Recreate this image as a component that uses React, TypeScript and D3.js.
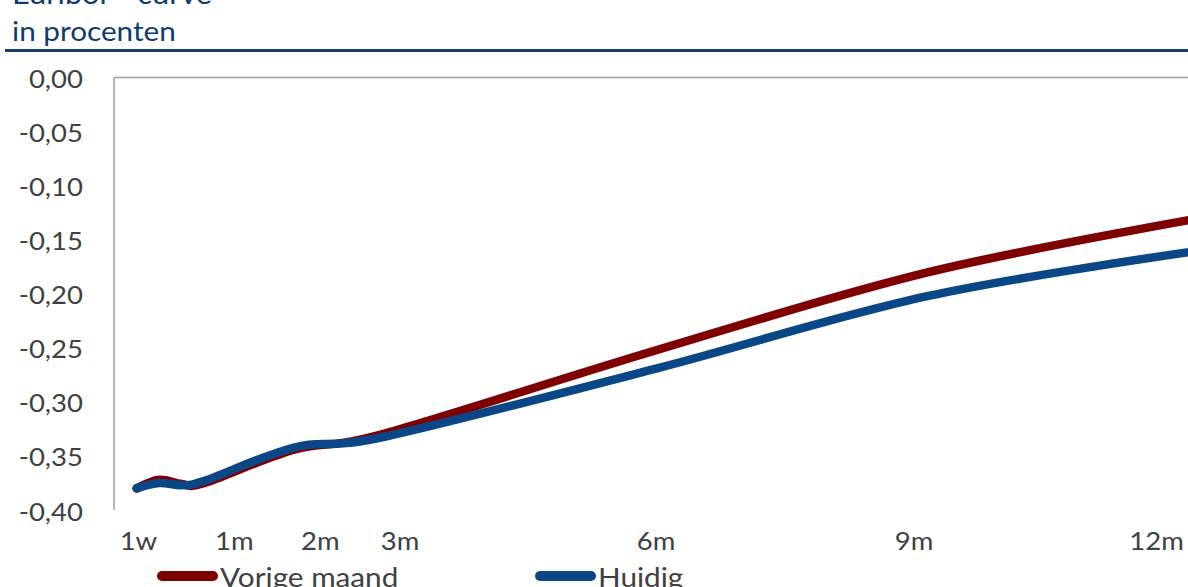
import React from "react";
import * as d3 from "d3";

// ---- data ----
const tenorNames = ["1w", "2w", "3w", "1m", "2m", "3m", "6m", "9m", "12m"];
const tenorMonths = [0.25, 0.5, 0.75, 1, 2, 3, 6, 9, 12];
const vorigeMaand = [-0.38, -0.372, -0.376, -0.375, -0.344, -0.329, -0.252, -0.18, -0.13];
const huidig = [-0.38, -0.375, -0.377, -0.373, -0.342, -0.332, -0.269, -0.202, -0.16];

const xTickLabels = ["1w", "1m", "2m", "3m", "6m", "9m", "12m"];
const xTickAnchors = [0.27, 1.33, 2.28, 3.16, 5.99, 8.84, 11.52];
const yTicks = [0, -0.05, -0.1, -0.15, -0.2, -0.25, -0.3, -0.35, -0.4];

const seriesNames = ["Vorige maand", "Huidig"];
const seriesColors = ["#7f0000", "#0b4787"];

const W = 1188;
const H = 587;
const FONT = "Lato, 'Open Sans', sans-serif";
const SX = 1.1;

function T({ x, y, anchor = "start", size, fill, children }: any) {
  return (
    <g transform={`translate(${x},${y}) scale(${SX},1)`}>
      <text x={0} y={0} textAnchor={anchor} dominantBaseline="central" fontFamily={FONT} fontSize={size} fill={fill}>
        {children}
      </text>
    </g>
  );
}

export default function App() {
  const x = d3.scaleLinear().domain([0, 12]).range([114, 1200]);
  const y = d3.scaleLinear().domain([-0.4, 0]).range([510, 77.5]);
  const fmt = (v: number) => d3.format(".2f")(v).replace(".", ",").replace("−", "-");

  const line = d3
    .line<number>()
    .x((_, i) => x(tenorMonths[i]))
    .y((d) => y(d))
    .curve(d3.curveCardinal.tension(0));

  const series = [vorigeMaand, huidig];

  return (
    <div>
      <style>{`body{margin:0;}`}</style>
      <svg width={W} height={H} style={{ display: "block" }}>
        <rect width={W} height={H} fill="#ffffff" />
        {/* titles */}
        <g transform={`translate(12,4) scale(${SX},1)`}>
          <text x={0} y={0} fontFamily={FONT} fontSize={28} fill="#0d3b6e">Euribor - curve</text>
        </g>
        <g transform={`translate(12,41) scale(${SX},1)`}>
          <text x={0} y={0} fontFamily={FONT} fontSize={27} fill="#0d3b6e">in procenten</text>
        </g>
        <line x1={5} x2={W} y1={50.5} y2={50.5} stroke="#16416f" strokeWidth={3} />

        {/* frame */}
        <line x1={114} x2={W} y1={y(0)} y2={y(0)} stroke="#a0a0a0" strokeWidth={1.5} />
        <line x1={114} x2={114} y1={y(0)} y2={y(-0.4)} stroke="#a0a0a0" strokeWidth={1.5} />

        {/* y ticks */}
        {yTicks.map((t) => (
          <T key={t} x={83} y={y(t) + 1} anchor="end" size={25} fill="#404040">
            {fmt(t)}
          </T>
        ))}

        {/* x labels */}
        {xTickLabels.map((l, i) => (
          <T key={l} x={x(xTickAnchors[i])} y={540} anchor="middle" size={25} fill="#404040">
            {l}
          </T>
        ))}

        {/* lines */}
        {series.map((s, i) => (
          <path
            key={i}
            d={line(s) || ""}
            fill="none"
            stroke={seriesColors[i]}
            strokeWidth={8.5}
            strokeLinecap="round"
            strokeLinejoin="round"
          />
        ))}

        {/* legend */}
        {[157, 535].map((lx, i) => (
          <g key={i}>
            <line x1={lx + 5} x2={lx + 56} y1={576} y2={576} stroke={seriesColors[i]} strokeWidth={10} strokeLinecap="round" />
            <T x={lx + 63} y={577} size={27} fill="#404040">
              {seriesNames[i]}
            </T>
          </g>
        ))}
      </svg>
    </div>
  );
}
